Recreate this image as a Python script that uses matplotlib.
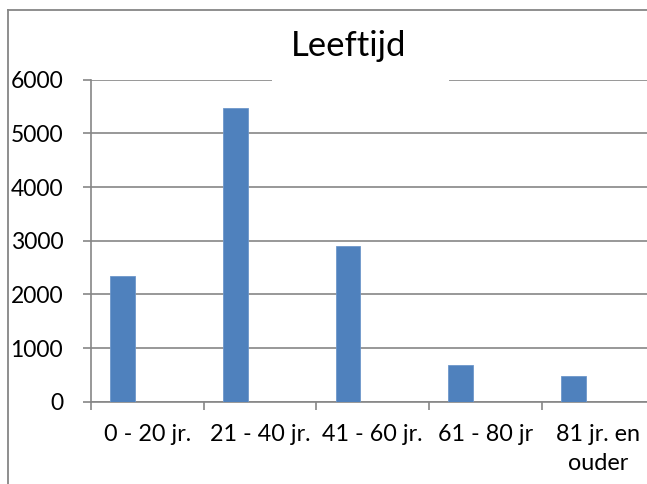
import numpy as np
import matplotlib
matplotlib.use("Agg")
import matplotlib.pyplot as plt
from matplotlib.patches import Rectangle
from matplotlib.lines import Line2D

categories = ["0 - 20 jr.", "21 - 40 jr.", "41 - 60 jr.", "61 - 80 jr", "81 jr. en\nouder"]
values = [2350, 5470, 2900, 680, 480]
yticks = [0, 1000, 2000, 3000, 4000, 5000, 6000]
title = "Leeftijd"

GRAY = "#868686"
BLUE = "#4F81BD"
FONT = ["Lato", "DejaVu Sans"]
plt.rcParams["font.family"] = FONT

W, H = 647, 484
fig = plt.figure(figsize=(W / 100, H / 100), dpi=100)

ax = fig.add_axes([91 / W, (H - 401.7) / H, 563.5 / W, 322 / H])
n = len(categories)
x = np.arange(n) + 0.28
ax.bar(x, values, width=0.22, color=BLUE, edgecolor="#6D97CB", linewidth=0.6, zorder=3)

ax.set_xlim(0, n)
ax.set_ylim(0, 6000)
ax.set_yticks(yticks)
ax.set_yticklabels([str(v) for v in yticks])
ax.yaxis.grid(True, color=GRAY, linewidth=1.2, zorder=0)
ax.set_axisbelow(True)

ax.set_xticks(np.arange(n + 1))
ax.set_xticklabels([])
ax.set_xticks(np.arange(n) + 0.5, minor=True)
ax.set_xticklabels(categories, minor=True, fontsize=16.8, linespacing=1.5)
ax.tick_params(axis="x", which="minor", length=0, pad=16)
ax.tick_params(axis="x", which="major", length=6, width=1.2, color=GRAY, direction="out")
ax.tick_params(axis="y", length=6, width=1.2, color=GRAY, direction="out", labelsize=16.5, pad=14)

for s in ["top", "right"]:
    ax.spines[s].set_visible(False)
for s in ["left", "bottom"]:
    ax.spines[s].set_color(GRAY)
    ax.spines[s].set_linewidth(1.2)

# chart frame (cropped)
fig.add_artist(Line2D([8 / W, 8 / W], [0, 1 - 10 / H], transform=fig.transFigure, color=GRAY, linewidth=1.3))
fig.add_artist(Line2D([8 / W, 1], [1 - 10 / H, 1 - 10 / H], transform=fig.transFigure, color=GRAY, linewidth=1.3))

# title with white background box
fig.add_artist(Rectangle((272 / W, 1 - 90 / H), 177 / W, 60 / H, transform=fig.transFigure,
                         facecolor="white", edgecolor="none", zorder=5))
fig.text(349 / W, 1 - 56 / H, title, ha="center", va="baseline", fontsize=25, zorder=6)

fig.savefig("out.png", dpi=100)
